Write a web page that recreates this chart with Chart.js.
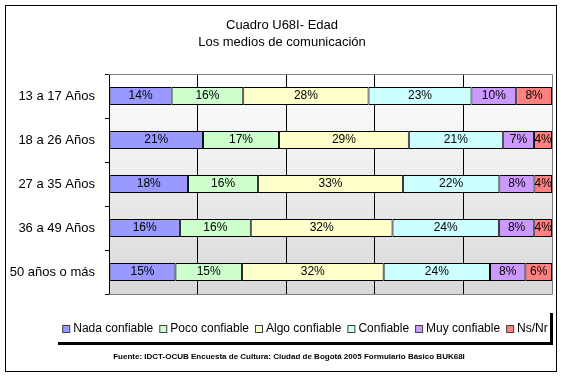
<!DOCTYPE html>
<html>
<head>
<meta charset="utf-8">
<script src="https://cdn.jsdelivr.net/npm/chart.js@4.4.1/dist/chart.umd.min.js"></script>
<style>
html,body{margin:0;padding:0;background:#fff;}
#wrap{width:563px;height:377px;position:relative;}
</style>
</head>
<body>
<div id="wrap"><canvas id="c" width="563" height="377"></canvas></div>
<script>
const titleLines = ['Cuadro U68I- Edad', 'Los medios de comunicación'];
const footerText = 'Fuente: IDCT-OCUB Encuesta de Cultura: Ciudad de Bogotá 2005 Formulario Básico BUK68I';
const categories = ['13 a 17 Años', '18 a 26 Años', '27 a 35 Años', '36 a 49 Años', '50 años o más'];
const seriesNames = ['Nada confiable', 'Poco confiable', 'Algo confiable', 'Confiable', 'Muy confiable', 'Ns/Nr'];
const nadaConfiable = [14, 21, 18, 16, 15];
const pocoConfiable = [16, 17, 16, 16, 15];
const algoConfiable = [28, 29, 33, 32, 32];
const confiable = [23, 21, 22, 24, 24];
const muyConfiable = [10, 7, 8, 8, 8];
const nsNr = [8, 4, 4, 4, 6];
const xTicks = [0, 20, 40, 60, 80, 100];

const seriesValues = [nadaConfiable, pocoConfiable, algoConfiable, confiable, muyConfiable, nsNr];
const seriesColors = ['#9999ff', '#ccffcc', '#ffffcc', '#ccffff', '#cc99ff', '#ff8080'];

const rowTotals = categories.map((_, i) => seriesValues.reduce((s, arr) => s + arr[i], 0));

const datasets = seriesNames.map((name, k) => ({
  label: name,
  raw: seriesValues[k],
  data: seriesValues[k].map((v, i) => v / rowTotals[i] * 100),
  backgroundColor: seriesColors[k],
  borderColor: '#000000',
  borderWidth: 1,
  borderSkipped: false,
  barPercentage: 1.0,
  categoryPercentage: 0.41
}));

const FONT = '"Liberation Sans", Arial, sans-serif';

const decor = {
  id: 'decor',
  beforeDraw(chart) {
    const ctx = chart.ctx;
    const a = chart.chartArea;
    ctx.save();
    ctx.fillStyle = '#ffffff';
    ctx.fillRect(0, 0, chart.width, chart.height);
    const g = ctx.createLinearGradient(0, a.top, 0, a.bottom);
    g.addColorStop(0, '#ffffff');
    g.addColorStop(1, '#d8d8d8');
    ctx.fillStyle = g;
    ctx.fillRect(a.left, a.top, a.right - a.left, a.bottom - a.top);
    ctx.restore();
  },
  afterDatasetsDraw(chart) {
    const ctx = chart.ctx;
    const a = chart.chartArea;
    ctx.save();
    ctx.strokeStyle = '#808080';
    ctx.lineWidth = 1;
    ctx.beginPath();
    ctx.moveTo(a.left, a.top + 0.5);
    ctx.lineTo(a.right + 0.5, a.top + 0.5);
    ctx.lineTo(a.right + 0.5, a.bottom + 0.5);
    ctx.lineTo(a.left, a.bottom + 0.5);
    ctx.stroke();
    ctx.fillStyle = '#000000';
    ctx.font = '12px ' + FONT;
    ctx.textAlign = 'center';
    ctx.textBaseline = 'middle';
    chart.data.datasets.forEach((ds, k) => {
      const meta = chart.getDatasetMeta(k);
      meta.data.forEach((bar, i) => {
        const cx = (bar.x + bar.base) / 2;
        ctx.fillText(ds.raw[i] + '%', cx, bar.y);
      });
    });
    ctx.restore();
  },
  afterDraw(chart) {
    const ctx = chart.ctx;
    ctx.save();
    ctx.strokeStyle = '#000000';
    ctx.lineWidth = 1;
    ctx.strokeRect(5.5, 5.5, 551, 366);
    ctx.fillStyle = '#000000';
    ctx.textAlign = 'center';
    ctx.textBaseline = 'middle';
    ctx.font = '13px ' + FONT;
    ctx.fillText(titleLines[0], 282, 25);
    ctx.fillText(titleLines[1], 282, 42);
    ctx.font = '12px ' + FONT;
    const box = 7, gapBoxText = 4, gapItems = 6;
    const widths = seriesNames.map(n => box + gapBoxText + ctx.measureText(n).width);
    const total = widths.reduce((s, w) => s + w, 0) + gapItems * (seriesNames.length - 1);
    let x = 305 - total / 2;
    const ly = 329;
    ctx.textAlign = 'left';
    seriesNames.forEach((n, k) => {
      ctx.fillStyle = seriesColors[k];
      ctx.fillRect(x + 0.5, ly - 4 + 0.5, box, box);
      ctx.strokeStyle = '#404040';
      ctx.lineWidth = 1;
      ctx.strokeRect(x + 0.5, ly - 4 + 0.5, box, box);
      ctx.fillStyle = '#000000';
      ctx.fillText(n, x + box + gapBoxText, ly);
      x += widths[k] + gapItems;
    });
    ctx.fillStyle = '#000000';
    ctx.fillRect(58, 342, 495, 3);
    ctx.fillRect(550, 313, 3, 32);
    ctx.font = 'bold 8px ' + FONT;
    ctx.textAlign = 'center';
    ctx.fillText(footerText, 289, 357);
    ctx.restore();
  }
};

new Chart(document.getElementById('c'), {
  type: 'bar',
  data: { labels: categories, datasets },
  plugins: [decor],
  options: {
    indexAxis: 'y',
    responsive: false,
    animation: false,
    events: [],
    layout: { padding: { top: 74, right: 11, bottom: 83, left: 0 } },
    plugins: { legend: { display: false }, title: { display: false }, tooltip: { enabled: false } },
    scales: {
      x: {
        stacked: true,
        min: 0,
        max: 100,
        afterBuildTicks(scale) { scale.ticks = xTicks.map(v => ({ value: v })); },
        ticks: { display: false },
        border: { display: false },
        grid: {
          drawTicks: false,
          lineWidth: 1,
          color: (c) => (c.tick && (c.tick.value === 0 || c.tick.value === 100)) ? 'rgba(0,0,0,0)' : '#000000'
        },
        afterFit(scale) { scale.height = 0; }
      },
      y: {
        stacked: true,
        ticks: { color: '#000000', font: { family: FONT, size: 13 }, padding: 10 },
        border: { display: true, color: '#000000', width: 1 },
        grid: { offset: true, drawOnChartArea: false, drawTicks: true, tickLength: 4, color: '#000000' },
        afterFit(scale) { scale.width = 109; }
      }
    }
  }
});
</script>
</body>
</html>
